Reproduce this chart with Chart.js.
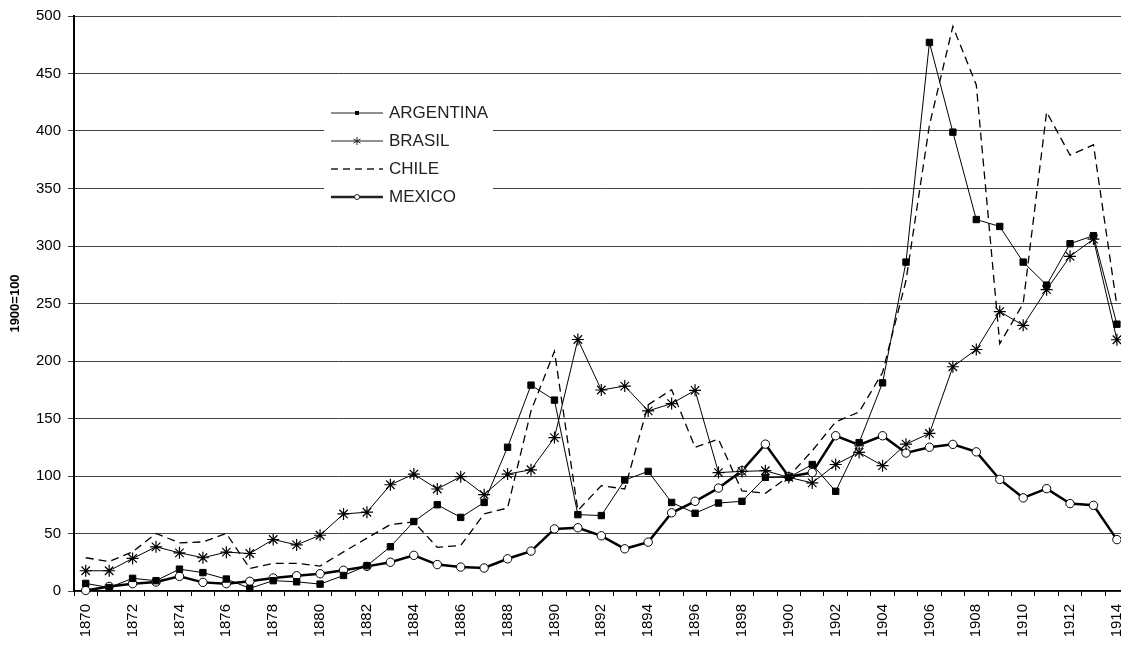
<!DOCTYPE html>
<html>
<head>
<meta charset="utf-8">
<script src="https://cdn.jsdelivr.net/npm/chart.js@4.4.1/dist/chart.umd.min.js"></script>
<style>
  html, body { margin: 0; padding: 0; background: #fff; overflow: hidden; }
  #exportsChart { display: block; }
</style>
</head>
<body>
<canvas id="exportsChart" width="1143" height="649"></canvas>
<script>
const years = ["1870","1871","1872","1873","1874","1875","1876","1877","1878","1879",
  "1880","1881","1882","1883","1884","1885","1886","1887","1888","1889",
  "1890","1891","1892","1893","1894","1895","1896","1897","1898","1899",
  "1900","1901","1902","1903","1904","1905","1906","1907","1908","1909",
  "1910","1911","1912","1913","1914"];

const argentina = [6.6, 3, 11, 9, 19, 16, 10.4, 2.3, 9, 8,
  6, 13.5, 22, 38.5, 60.4, 75, 64, 77, 125, 179,
  166, 66.4, 65.6, 96.5, 104, 77, 67.6, 76.5, 78, 98.8,
  98.8, 110, 86.7, 129, 181, 286, 477, 399, 323, 317,
  286, 266, 302, 309, 232];

const brasil = [17.6, 17.6, 28.3, 38.4, 33.2, 28.9, 33.8, 32.6, 44.8, 40.1,
  48.5, 67, 68.5, 92.4, 101.7, 88.7, 99.4, 83.8, 101.7, 105.4,
  133.4, 218.7, 174.8, 178.2, 156.6, 163, 174.5, 103, 104, 104.6,
  98.8, 94, 110, 120.5, 109, 127.7, 137, 195, 210, 243,
  231, 262, 291, 306, 218.5];

const chile = [28.9, 25.7, 34, 50, 41.9, 42.7, 50, 19.6, 24, 24,
  21.7, 34, 46, 57.8, 60, 38, 39.6, 67, 72.2, 156.6,
  208.5, 70, 91.6, 88.7, 162, 175, 125, 132, 87, 85,
  99.6, 122, 147, 155.7, 190, 270, 405, 491, 440, 215,
  250, 416.5, 379, 388, 248];

const mexico = [0.5, 4, 6.4, 7.8, 12.7, 7.5, 6.4, 8.4, 11.3, 13.3,
  15, 18, 21.4, 25, 31, 23, 20.8, 20, 28, 34.7,
  54, 55, 48, 36.7, 42.5, 68, 78, 89.5, 104.6, 127.7,
  99.4, 103, 135, 127, 135, 120, 125, 127.5, 121, 97,
  81, 89, 76, 74.5, 44.7];

const yTicks = [0, 50, 100, 150, 200, 250, 300, 350, 400, 450, 500];

const FONT = "'Liberation Sans', Arial, sans-serif";

// legend drawn inside the plot, on a white box, like the original
const boxLegend = {
  id: "boxLegend",
  afterDraw(chart) {
    const ctx = chart.ctx;
    const rows = [
      { label: "ARGENTINA", y: 113, width: 1, dash: [], marker: "rect" },
      { label: "BRASIL", y: 141, width: 1, dash: [], marker: "star" },
      { label: "CHILE", y: 169, width: 1.5, dash: [7, 5], marker: null },
      { label: "MEXICO", y: 197, width: 2.5, dash: [], marker: "circle" },
    ];
    ctx.save();
    ctx.fillStyle = "#fff";
    ctx.fillRect(324, 98, 169, 112);
    rows.forEach((r) => {
      ctx.strokeStyle = "#222";
      ctx.lineWidth = r.width;
      ctx.setLineDash(r.dash);
      ctx.beginPath();
      ctx.moveTo(331, r.y);
      ctx.lineTo(383, r.y);
      ctx.stroke();
      ctx.setLineDash([]);
      ctx.lineWidth = 1;
      if (r.marker === "rect") {
        ctx.fillStyle = "#000";
        ctx.fillRect(355, r.y - 2, 4, 4);
      } else if (r.marker === "star") {
        ctx.beginPath();
        for (let a = 0; a < 3; a++) {
          const ang = Math.PI / 2 + a * Math.PI / 3;
          ctx.moveTo(357 + 4 * Math.cos(ang), r.y + 4 * Math.sin(ang));
          ctx.lineTo(357 - 4 * Math.cos(ang), r.y - 4 * Math.sin(ang));
        }
        ctx.stroke();
      } else if (r.marker === "circle") {
        ctx.fillStyle = "#fff";
        ctx.beginPath();
        ctx.arc(357, r.y, 2.5, 0, Math.PI * 2);
        ctx.fill();
        ctx.stroke();
      }
      ctx.fillStyle = "#222";
      ctx.font = "17px " + FONT;
      ctx.textBaseline = "middle";
      ctx.fillText(r.label, 389, r.y);
    });
    ctx.restore();
  },
};

const ctx = document.getElementById("exportsChart").getContext("2d");
new Chart(ctx, {
  type: "line",
  data: {
    labels: years,
    datasets: [
      {
        label: "ARGENTINA",
        data: argentina,
        borderColor: "#000",
        borderWidth: 1,
        pointStyle: "rect",
        pointRadius: 4.5,
        pointBackgroundColor: "#000",
        pointBorderColor: "#000",
        pointBorderWidth: 1,
        tension: 0,
        clip: false,
      },
      {
        label: "BRASIL",
        data: brasil,
        borderColor: "#000",
        borderWidth: 1,
        pointStyle: "star",
        pointRadius: 6,
        pointBorderColor: "#000",
        pointBackgroundColor: "#000",
        pointBorderWidth: 1.2,
        tension: 0,
        clip: false,
      },
      {
        label: "CHILE",
        data: chile,
        borderColor: "#000",
        borderWidth: 1.3,
        borderDash: [8, 5],
        pointRadius: 0,
        tension: 0,
        clip: false,
      },
      {
        label: "MEXICO",
        data: mexico,
        borderColor: "#000",
        borderWidth: 2.5,
        pointStyle: "circle",
        pointRadius: 4.2,
        pointBackgroundColor: "#fff",
        pointBorderColor: "#000",
        pointBorderWidth: 1,
        tension: 0,
        clip: false,
      },
    ],
  },
  options: {
    responsive: false,
    devicePixelRatio: 1,
    animation: false,
    events: [],
    layout: { padding: { top: 14, right: 1, bottom: 0, left: 0 } },
    plugins: {
      legend: { display: false },
      tooltip: { enabled: false },
    },
    scales: {
      x: {
        type: "category",
        offset: true,
        afterFit: (scale) => { scale.height = 58; },
        grid: {
          offset: true,
          drawOnChartArea: false,
          drawTicks: true,
          tickLength: 5,
          color: "#000",
        },
        border: { color: "#000", width: 1.5 },
        ticks: {
          autoSkip: false,
          maxRotation: 90,
          minRotation: 90,
          padding: 8,
          color: "#000",
          font: { family: FONT, size: 15 },
          callback: (v, i) => (i % 2 === 0 ? years[i] : ""),
        },
      },
      y: {
        min: 0,
        max: 500,
        afterFit: (scale) => { scale.width = 74; },
        afterBuildTicks: (scale) => {
          scale.ticks = yTicks.map((v) => ({ value: v }));
        },
        grid: {
          color: "#444",
          lineWidth: 1,
          drawTicks: true,
          tickLength: 6,
        },
        border: { color: "#000", width: 2 },
        ticks: {
          padding: 7,
          color: "#000",
          font: { family: FONT, size: 15 },
        },
        title: {
          display: true,
          text: "1900=100",
          color: "#000",
          font: { family: FONT, size: 13, weight: "bold" },
          padding: { top: 8, bottom: 0 },
        },
      },
    },
  },
  plugins: [boxLegend],
});
</script>
</body>
</html>
